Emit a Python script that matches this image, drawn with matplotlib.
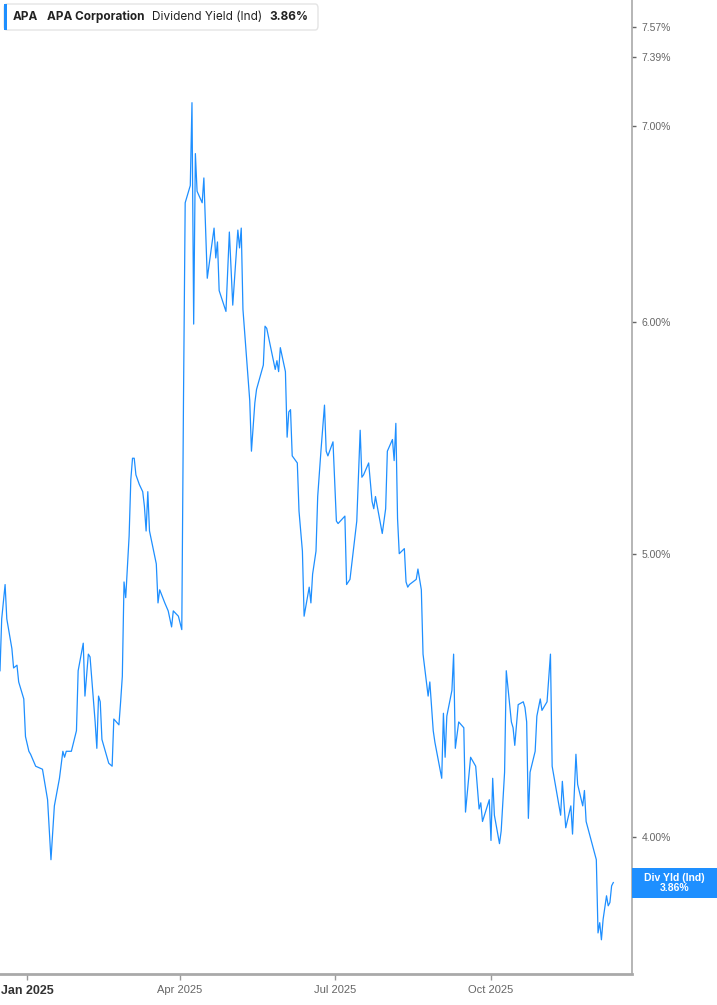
import matplotlib
matplotlib.use("Agg")
import matplotlib.pyplot as plt
import matplotlib.ticker as mticker
from matplotlib.patches import Rectangle, FancyBboxPatch
import numpy as np
import pandas as pd

# APA dividend yield (indicated)
dates = [
    "2024-12-16", "2024-12-17", "2024-12-19", "2024-12-20", "2024-12-23", "2024-12-24",
    "2024-12-26", "2024-12-27", "2024-12-30", "2024-12-31", "2025-01-02", "2025-01-03",
    "2025-01-06", "2025-01-10", "2025-01-13", "2025-01-15", "2025-01-17", "2025-01-20",
    "2025-01-22", "2025-01-23", "2025-01-24", "2025-01-27", "2025-01-30", "2025-01-31",
    "2025-02-03", "2025-02-04", "2025-02-06", "2025-02-07", "2025-02-10", "2025-02-11",
    "2025-02-12", "2025-02-13", "2025-02-14", "2025-02-18", "2025-02-20", "2025-02-21",
    "2025-02-24", "2025-02-25", "2025-02-26", "2025-02-27", "2025-02-28", "2025-03-02",
    "2025-03-03", "2025-03-04", "2025-03-05", "2025-03-06", "2025-03-08", "2025-03-10",
    "2025-03-11", "2025-03-12", "2025-03-13", "2025-03-14", "2025-03-18", "2025-03-19",
    "2025-03-20", "2025-03-23", "2025-03-25", "2025-03-27", "2025-03-28", "2025-03-31",
    "2025-04-02", "2025-04-03", "2025-04-04", "2025-04-07", "2025-04-08", "2025-04-09",
    "2025-04-10", "2025-04-11", "2025-04-14", "2025-04-15", "2025-04-17", "2025-04-21",
    "2025-04-22", "2025-04-23", "2025-04-24", "2025-04-28", "2025-04-30", "2025-05-02",
    "2025-05-05", "2025-05-06", "2025-05-07", "2025-05-08", "2025-05-12", "2025-05-13",
    "2025-05-15", "2025-05-16", "2025-05-20", "2025-05-21", "2025-05-22", "2025-05-27",
    "2025-05-28", "2025-05-29", "2025-05-30", "2025-06-02", "2025-06-03", "2025-06-04",
    "2025-06-05", "2025-06-06", "2025-06-09", "2025-06-10", "2025-06-12", "2025-06-13",
    "2025-06-16", "2025-06-17", "2025-06-18", "2025-06-20", "2025-06-21", "2025-06-23",
    "2025-06-25", "2025-06-26", "2025-06-27", "2025-06-30", "2025-07-02", "2025-07-03",
    "2025-07-07", "2025-07-08", "2025-07-10", "2025-07-14", "2025-07-16", "2025-07-17",
    "2025-07-18", "2025-07-21", "2025-07-23", "2025-07-24", "2025-07-25", "2025-07-29",
    "2025-07-31", "2025-08-01", "2025-08-04", "2025-08-05", "2025-08-06", "2025-08-07",
    "2025-08-08", "2025-08-11", "2025-08-12", "2025-08-13", "2025-08-14", "2025-08-18",
    "2025-08-19", "2025-08-21", "2025-08-22", "2025-08-25", "2025-08-26", "2025-08-28",
    "2025-08-29", "2025-09-02", "2025-09-03", "2025-09-04", "2025-09-05", "2025-09-08",
    "2025-09-09", "2025-09-10", "2025-09-12", "2025-09-15", "2025-09-16", "2025-09-19",
    "2025-09-22", "2025-09-24", "2025-09-25", "2025-09-26", "2025-09-30", "2025-10-01",
    "2025-10-02", "2025-10-03", "2025-10-06", "2025-10-07", "2025-10-09", "2025-10-10",
    "2025-10-13", "2025-10-14", "2025-10-15", "2025-10-17", "2025-10-20", "2025-10-21",
    "2025-10-22", "2025-10-23", "2025-10-24", "2025-10-27", "2025-10-28", "2025-10-30",
    "2025-10-31", "2025-11-03", "2025-11-05", "2025-11-06", "2025-11-11", "2025-11-12",
    "2025-11-14", "2025-11-17", "2025-11-18", "2025-11-20", "2025-11-21", "2025-11-24",
    "2025-11-25", "2025-11-26", "2025-11-29", "2025-12-02", "2025-12-03", "2025-12-04",
    "2025-12-05", "2025-12-06", "2025-12-08", "2025-12-09", "2025-12-10", "2025-12-11",
    "2025-12-12",
]
div_yield = [
    4.56, 4.75, 4.88, 4.75, 4.64, 4.57, 4.58, 4.52, 4.46, 4.33, 4.28, 4.27,
    4.23, 4.22, 4.12, 3.93, 4.10, 4.19, 4.28, 4.26, 4.28, 4.28, 4.35, 4.56,
    4.66, 4.47, 4.62, 4.61, 4.38, 4.29, 4.47, 4.45, 4.32, 4.24, 4.23, 4.39,
    4.37, 4.45, 4.54, 4.89, 4.83, 5.07, 5.30, 5.39, 5.39, 5.32, 5.28, 5.25,
    5.19, 5.09, 5.25, 5.09, 4.96, 4.81, 4.86, 4.81, 4.78, 4.72, 4.78, 4.76,
    4.71, 5.64, 6.59, 6.68, 7.13, 5.99, 6.85, 6.65, 6.59, 6.72, 6.21, 6.46,
    6.31, 6.39, 6.15, 6.05, 6.44, 6.08, 6.45, 6.36, 6.46, 6.06, 5.64, 5.42,
    5.63, 5.69, 5.80, 5.98, 5.97, 5.78, 5.82, 5.77, 5.88, 5.77, 5.48, 5.59,
    5.60, 5.40, 5.37, 5.17, 5.01, 4.76, 4.87, 4.81, 4.92, 5.01, 5.23, 5.43,
    5.62, 5.42, 5.40, 5.46, 5.13, 5.12, 5.15, 4.88, 4.90, 5.13, 5.51, 5.31,
    5.32, 5.37, 5.21, 5.18, 5.23, 5.08, 5.18, 5.42, 5.47, 5.38, 5.54, 5.14,
    5.00, 5.02, 4.89, 4.87, 4.88, 4.90, 4.94, 4.86, 4.62, 4.47, 4.52, 4.35,
    4.31, 4.19, 4.41, 4.26, 4.40, 4.49, 4.62, 4.29, 4.38, 4.36, 4.08, 4.26,
    4.23, 4.09, 4.11, 4.05, 4.12, 3.99, 4.19, 4.07, 3.98, 4.02, 4.21, 4.56,
    4.38, 4.36, 4.30, 4.44, 4.45, 4.43, 4.38, 4.06, 4.21, 4.28, 4.40, 4.46,
    4.42, 4.45, 4.62, 4.23, 4.07, 4.18, 4.03, 4.10, 4.01, 4.27, 4.17, 4.10,
    4.15, 4.05, 3.99, 3.93, 3.71, 3.74, 3.69, 3.75, 3.82, 3.79, 3.80, 3.85,
    3.86,
]

ytick_values = [4.00, 5.00, 6.00, 7.00, 7.39, 7.57]
xtick_dates = ["2025-01-01", "2025-04-01", "2025-07-01", "2025-10-01"]
xtick_labels = ["Jan 2025", "Apr 2025", "Jul 2025", "Oct 2025"]
last_value = 3.86

BLUE = "#1e8fff"
AXIS_GRAY = "#a9a9a9"

W, H = 717, 1005
fig = plt.figure(figsize=(W / 100, H / 100), dpi=100)
ax = fig.add_axes([0, 31 / H, 632 / W, 1 - 31 / H])

x = pd.to_datetime(dates)
ax.plot(x, div_yield, color=BLUE, lw=0.9)

ax.set_yscale("log")
ax.set_ylim(3.592, 7.73)
ax.set_xlim(pd.Timestamp("2024-12-16"), pd.Timestamp("2025-12-23"))

# y axis on the right
ax.yaxis.tick_right()
ax.yaxis.set_major_locator(mticker.FixedLocator(ytick_values))
ax.yaxis.set_minor_locator(mticker.NullLocator())
ax.yaxis.set_major_formatter(mticker.FixedFormatter([f"{v:.2f}%" for v in ytick_values]))
ax.tick_params(axis="y", which="major", length=3, width=1, color="#666666",
               labelsize=7.5, labelcolor="#666666", pad=4)
for lab in ax.get_yticklabels():
    lab.set_fontfamily("Liberation Sans")

# x axis
ax.set_xticks(pd.to_datetime(xtick_dates))
ax.set_xticklabels(xtick_labels)
ax.tick_params(axis="x", length=4, width=1, color="#999999",
               labelsize=8, labelcolor="#666666", pad=4)
for i, lab in enumerate(ax.get_xticklabels()):
    lab.set_fontfamily("Liberation Sans")
    if i == 0:
        lab.set_fontweight("bold")
        lab.set_fontsize(9)
        lab.set_color("#333333")

for side in ["top", "left"]:
    ax.spines[side].set_visible(False)
ax.spines["right"].set_color(AXIS_GRAY)
ax.spines["right"].set_linewidth(1.2)
ax.spines["bottom"].set_color(AXIS_GRAY)
ax.spines["bottom"].set_linewidth(2)

# last value label box on the right axis
lo, hi = ax.get_ylim()
frac = (np.log(last_value) - np.log(lo)) / (np.log(hi) - np.log(lo))
box_h = 30 / (H - 31)
box_w = 85 / 632
ax.add_patch(Rectangle((1.0, frac - box_h / 2), box_w, box_h, transform=ax.transAxes,
                       facecolor=BLUE, edgecolor="none", clip_on=False, zorder=5))
ax.text(1.0 + box_w / 2, frac, f"Div Yld (Ind)\n{last_value:.2f}%", transform=ax.transAxes,
        ha="center", va="center", color="white", fontsize=7.5, fontweight="bold",
        family="Liberation Sans", linespacing=1.0, zorder=6)

# header legend box
fig.patches.append(FancyBboxPatch((4 / W, 1 - 30 / H), 314 / W, 26 / H,
                                  boxstyle="round,pad=0,rounding_size=0.004",
                                  transform=fig.transFigure, facecolor="white",
                                  edgecolor="#e4e4e4", lw=1))
fig.patches.append(Rectangle((4 / W, 1 - 30 / H), 3 / W, 26 / H, transform=fig.transFigure,
                             facecolor=BLUE, edgecolor="none"))
ty = 1 - 17 / H
fig.text(13 / W, ty, "APA", fontsize=8.5, fontweight="bold", color="#222222",
         va="center", family="Inter")
fig.text(47 / W, ty, "APA Corporation", fontsize=8.5, fontweight="bold", color="#222222",
         va="center", family="Inter")
fig.text(152 / W, ty, "Dividend Yield (Ind)", fontsize=8.5, color="#222222",
         va="center", family="Inter")
fig.text(269 / W, ty, f"{last_value:.2f}%", fontsize=8.5, fontweight="bold", color="#222222",
         va="center", family="Inter")

fig.savefig("out.png", dpi=100)
